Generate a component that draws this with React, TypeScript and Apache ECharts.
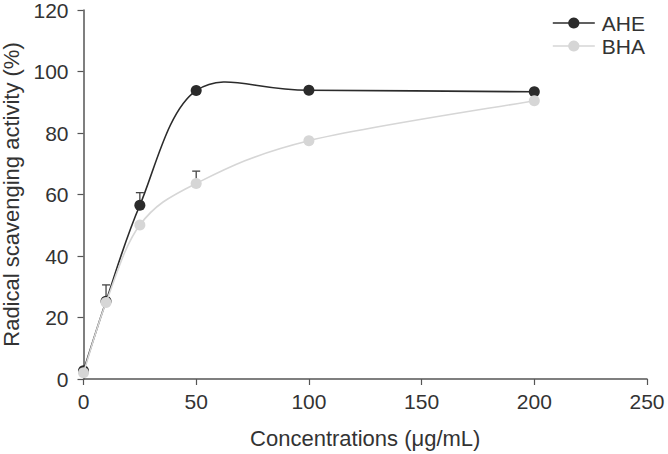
import React, { useEffect, useRef } from "react";
import * as echarts from "echarts";

const concentrations = [0, 10, 25, 50, 100, 200];
const aheValues = [2.7, 25.3, 56.5, 93.8, 93.9, 93.4];
const bhaValues = [2.0, 24.9, 50.1, 63.6, 77.5, 90.5];
// error bars: x, mean, upper end
const errX = [10, 25, 50];
const errMean = [25.3, 56.5, 63.6];
const errTop = [30.6, 60.6, 67.6];

const AHE_COLOR = "#2b2b2b";
const BHA_COLOR = "#d6d6d6";

// smooth curve (Catmull-Rom style cubic Bezier in pixel space) drawn through the data points
function curveSeries(name: string, xs: number[], ys: number[], color: string, z: number) {
  return {
    type: "custom",
    name: name + "-curve",
    z,
    silent: true,
    data: xs.map((x, i) => [x, ys[i]]),
    renderItem: (params: any, api: any) => {
      const i = params.dataIndex;
      const n = xs.length;
      if (i >= n - 1) return null;
      const P = (k: number) => {
        const kk = Math.max(0, Math.min(n - 1, k));
        return api.coord([xs[kk], ys[kk]]);
      };
      const p0 = P(i - 1), p1 = P(i), p2 = P(i + 1), p3 = P(i + 2);
      const c1 = [p1[0] + (p2[0] - p0[0]) / 6, p1[1] + (p2[1] - p0[1]) / 6];
      const c2 = [p2[0] - (p3[0] - p1[0]) / 6, p2[1] - (p3[1] - p1[1]) / 6];
      return {
        type: "bezierCurve",
        shape: {
          x1: p1[0], y1: p1[1],
          x2: p2[0], y2: p2[1],
          cpx1: c1[0], cpy1: c1[1],
          cpx2: c2[0], cpy2: c2[1],
        },
        style: { stroke: color, lineWidth: 1.6, fill: "none" },
      };
    },
  };
}

export default function App() {
  const ref = useRef<HTMLDivElement>(null);
  useEffect(() => {
    const chart = echarts.init(ref.current!, null, { renderer: "svg" });
    const font = "Liberation Sans, Arial, sans-serif";
    const axisColor = "#555";
    const textColor = "#333";
    chart.setOption({
      animation: false,
      grid: { left: 83.5, right: 21, top: 10, bottom: 75, outerBoundsMode: "none", containLabel: false },
      legend: {
        left: 547,
        top: 7,
        orient: "vertical",
        itemGap: 1,
        itemWidth: 42,
        itemHeight: 14,
        textStyle: { fontFamily: font, fontSize: 21, lineHeight: 22, color: textColor, padding: [0, 0, 0, 2] },
        data: [
          { name: "AHE", lineStyle: { color: AHE_COLOR, width: 1.6, opacity: 1 } },
          { name: "BHA", lineStyle: { color: BHA_COLOR, width: 1.6, opacity: 1 } },
        ],
      },
      xAxis: {
        type: "value",
        min: 0,
        max: 250,
        interval: 50,
        name: "Concentrations (μg/mL)",
        nameLocation: "middle",
        nameGap: 48,
        nameTextStyle: { fontFamily: font, fontSize: 22, color: textColor },
        axisLine: { lineStyle: { color: axisColor, width: 1.5 } },
        axisTick: { show: true, length: 6, lineStyle: { color: axisColor, width: 1.2 } },
        axisLabel: { fontFamily: font, fontSize: 21, color: textColor, margin: 12 },
        splitLine: { show: false },
      },
      yAxis: {
        type: "value",
        min: 0,
        max: 120,
        interval: 20,
        name: "Radical scavenging activity (%)",
        nameLocation: "middle",
        nameGap: 60,
        nameTextStyle: { fontFamily: font, fontSize: 22, color: textColor },
        axisLine: { show: true, lineStyle: { color: axisColor, width: 1.5 } },
        axisTick: { show: true, length: 6, lineStyle: { color: axisColor, width: 1.2 } },
        axisLabel: { fontFamily: font, fontSize: 21, color: textColor, margin: 15 },
        splitLine: { show: false },
      },
      series: [
        {
          type: "custom",
          name: "err",
          z: 1,
          silent: true,
          data: errX.map((x, i) => [x, errMean[i], errTop[i]]),
          renderItem: (params: any, api: any) => {
            const p0 = api.coord([api.value(0), api.value(1)]);
            const p1 = api.coord([api.value(0), api.value(2)]);
            const cap = 4;
            return {
              type: "group",
              children: [
                {
                  type: "line",
                  shape: { x1: p0[0], y1: p0[1], x2: p1[0], y2: p1[1] },
                  style: { stroke: "#444", lineWidth: 1.3 },
                },
                {
                  type: "line",
                  shape: { x1: p1[0] - cap, y1: p1[1], x2: p1[0] + cap, y2: p1[1] },
                  style: { stroke: "#444", lineWidth: 1.3 },
                },
              ],
            };
          },
        },
        curveSeries("AHE", concentrations, aheValues, AHE_COLOR, 2),
        {
          name: "AHE",
          type: "line",
          symbol: "circle",
          symbolSize: 11,
          itemStyle: { color: AHE_COLOR },
          lineStyle: { width: 0, opacity: 0 },
          data: concentrations.map((c, i) => [c, aheValues[i]]),
          z: 3,
        },
        curveSeries("BHA", concentrations, bhaValues, BHA_COLOR, 4),
        {
          name: "BHA",
          type: "line",
          symbol: "circle",
          symbolSize: 11,
          itemStyle: { color: BHA_COLOR },
          lineStyle: { width: 0, opacity: 0 },
          data: concentrations.map((c, i) => [c, bhaValues[i]]),
          z: 5,
        },
      ],
    });
    return () => chart.dispose();
  }, []);
  return (
    <div
      ref={ref}
      style={{ position: "absolute", left: 0, top: 0, width: 668, height: 454 }}
    />
  );
}
